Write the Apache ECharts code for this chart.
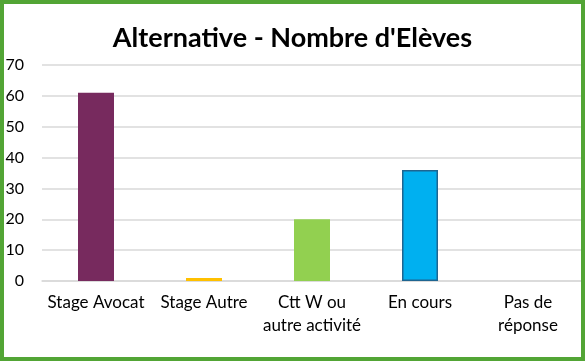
<!DOCTYPE html>
<html><head><meta charset="utf-8">
<script src="https://cdn.jsdelivr.net/npm/echarts@6/dist/echarts.min.js"></script>
<style>html,body{margin:0;padding:0;background:#fff}#c{width:585px;height:361px}</style>
</head><body><div id="c"></div>
<script>
const categories = ['Stage Avocat', 'Stage Autre', 'Ctt W ou\nautre activité', 'En cours', 'Pas de\nréponse'];
const values = [61, 1, 20, 36, 0];
const colors = ['#772A5E', '#FFC000', '#92D050', '#00B0F0', '#4472C4'];
const yTicks = [0, 10, 20, 30, 40, 50, 60, 70];

const chart = echarts.init(document.getElementById('c'), null, {renderer: 'canvas'});
const font = 'Lato';
chart.setOption({
  animation: false,
  backgroundColor: '#fff',
  title: {
    text: "Alternative - Nombre d'Elèves",
    left: 'center', top: 20,
    textStyle: {fontFamily: font, fontSize: 27, fontWeight: 'bold', color: '#000'}
  },
  grid: {left: 42, right: 3, top: 65, bottom: 80, containLabel: false},
  xAxis: {
    type: 'category', data: categories,
    axisLine: {show: true, lineStyle: {color: '#D9D9D9', width: 1.5}},
    axisTick: {show: false},
    axisLabel: {fontFamily: font, fontSize: 17, color: '#000', margin: 10, lineHeight: 23, interval: 0}
  },
  yAxis: {
    type: 'value', min: yTicks[0], max: yTicks[yTicks.length - 1], interval: 10,
    axisLine: {show: false}, axisTick: {show: false},
    splitLine: {lineStyle: {color: '#D9D9D9', width: 1.5}},
    axisLabel: {fontFamily: font, fontSize: 16, color: '#000', margin: 18}
  },
  series: [{
    type: 'bar', barWidth: 36,
    data: values.map((v, i) => ({
      value: v,
      itemStyle: {color: colors[i], borderColor: i === 3 ? '#1E6591' : colors[i], borderWidth: i === 3 ? 1.5 : 0}
    }))
  }],
  graphic: [{
    type: 'rect', silent: true, z: 100,
    shape: {x: 2, y: 2, width: 581, height: 357},
    style: {fill: 'none', stroke: '#52A535', lineWidth: 4}
  }]
});
</script></body></html>
